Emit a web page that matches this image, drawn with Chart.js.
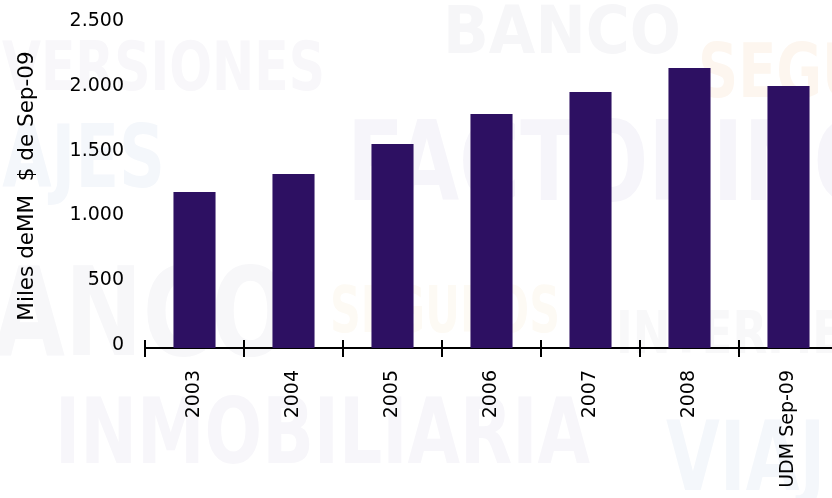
<!DOCTYPE html>
<html>
<head>
<meta charset="utf-8">
<script src="https://cdn.jsdelivr.net/npm/chart.js@4.4.1/dist/chart.umd.min.js"></script>
<style>
  html, body { margin: 0; padding: 0; background: #fff; overflow: hidden; }
  #box { width: 846px; height: 498px; }
</style>
</head>
<body>
<div id="box"><canvas id="graficoBarre" width="846" height="498"></canvas></div>
<script>
// Dati del grafico
const categorie = ["2003", "2004", "2005", "2006", "2007", "2008", "UDM Sep-09"];
const valori = [1204, 1343, 1574, 1806, 1975, 2160, 2022];
const yMin = 0;
const yMax = 2500;
const yPasso = 500;
const titoloAsseY = "Miles deMM  $ de Sep-09";

const coloreBarre = "#2d1062";

// Parole sbiadite sullo sfondo (filigrana), w = larghezza del testo
const filigrana = [
    { t: "BANCO", x: 443, y: 53, s: 66, c: "#f6f6f8", a: "left", w: 238 },
    { t: "INVERSIONES", x: 325, y: 90, s: 68, c: "#f8f7fa", a: "right", w: 384 },
    { t: "VIAJES", x: 165, y: 187, s: 88, c: "#f4f7fb", a: "right", w: 236 },
    { t: "FACTORING", x: 347, y: 200, s: 110, c: "#f6f5fa", a: "left", w: 535 },
    { t: "SEGUROS", x: 698, y: 97, s: 74, c: "#fdf6ef", a: "left", w: 300 },
    { t: "BANCO", x: 290, y: 355, s: 123, c: "#f7f7f9", a: "right", w: 368 },
    { t: "SEGUROS", x: 330, y: 332, s: 64, c: "#fdfaf4", a: "left", w: 230 },
    { t: "INTERMEDIACION", x: 616, y: 353, s: 59, c: "#f8f8f9", a: "left", w: 443 },
    { t: "INMOBILIARIA", x: 55, y: 463, s: 90, c: "#f7f6fa", a: "left", w: 535 },
    { t: "VIAJES", x: 666, y: 490, s: 96, c: "#f4f7fb", a: "left", w: 257 }
];

Chart.defaults.font.family = "'DejaVu Sans', Verdana, sans-serif";
Chart.defaults.color = "#000";

// Formato con il punto come separatore delle migliaia (2.500)
function formatta(v) {
    return v.toString().replace(/\B(?=(\d{3})+(?!\d))/g, ".");
}

// Sfondo bianco + filigrana
const sfondo = {
    id: "sfondo",
    beforeDraw(chart) {
        const { ctx, width, height } = chart;
        ctx.save();
        ctx.fillStyle = "#fff";
        ctx.fillRect(0, 0, width, height);
        ctx.textBaseline = "alphabetic";
        filigrana.forEach(p => {
            ctx.font = "bold " + p.s + "px 'DejaVu Sans'";
            ctx.fillStyle = p.c;
            ctx.textAlign = p.a;
            ctx.fillText(p.t, p.x, p.y, p.w);
        });
        ctx.restore();
    }
};

// Tacche dell'asse X che attraversano la linea, tra una categoria e l'altra
const tacche = {
    id: "tacche",
    afterDraw(chart) {
        const { ctx, chartArea } = chart;
        const scalaX = chart.scales.x;
        const passo = (scalaX.right - scalaX.left) / categorie.length;
        ctx.save();
        ctx.strokeStyle = "#000";
        ctx.lineWidth = 2;
        ctx.beginPath();
        for (let i = 0; i <= categorie.length; i++) {
            const x = Math.round(scalaX.left + i * passo);
            ctx.moveTo(x, chartArea.bottom - 8);
            ctx.lineTo(x, chartArea.bottom + 9);
        }
        ctx.stroke();
        ctx.restore();
    }
};

const ctx = document.getElementById("graficoBarre").getContext("2d");

new Chart(ctx, {
    type: "bar",
    data: {
        labels: categorie,
        datasets: [{
            data: valori,
            backgroundColor: coloreBarre,
            borderWidth: 0,
            barPercentage: 0.425,
            categoryPercentage: 1
        }]
    },
    options: {
        responsive: false,
        animation: false,
        events: [],
        layout: {
            padding: { top: 24, right: 8, left: 0, bottom: 0 }
        },
        plugins: {
            legend: { display: false },
            tooltip: { enabled: false }
        },
        scales: {
            x: {
                grid: { display: false, drawTicks: false },
                border: { display: true, color: "#000", width: 2 },
                ticks: {
                    color: "#000",
                    font: { size: 19 },
                    padding: 22,
                    minRotation: 90,
                    maxRotation: 90,
                    autoSkip: false
                },
                afterFit(scale) { scale.height = 150; }
            },
            y: {
                min: yMin,
                max: yMax,
                // tickLength sposta le etichette senza aggiungere padding sopra
                grid: { display: false, drawTicks: true, tickLength: 21 },
                border: { display: false },
                ticks: {
                    stepSize: yPasso,
                    padding: 0,
                    color: "#000",
                    font: { size: 19 },
                    labelOffset: -3,
                    callback: v => formatta(v)
                },
                title: {
                    display: true,
                    text: titoloAsseY,
                    color: "#000",
                    font: { size: 21.5 },
                    padding: { top: 15, bottom: 0 }
                },
                afterFit(scale) { scale.width = 145; }
            }
        }
    },
    plugins: [sfondo, tacche]
});
</script>
</body>
</html>
